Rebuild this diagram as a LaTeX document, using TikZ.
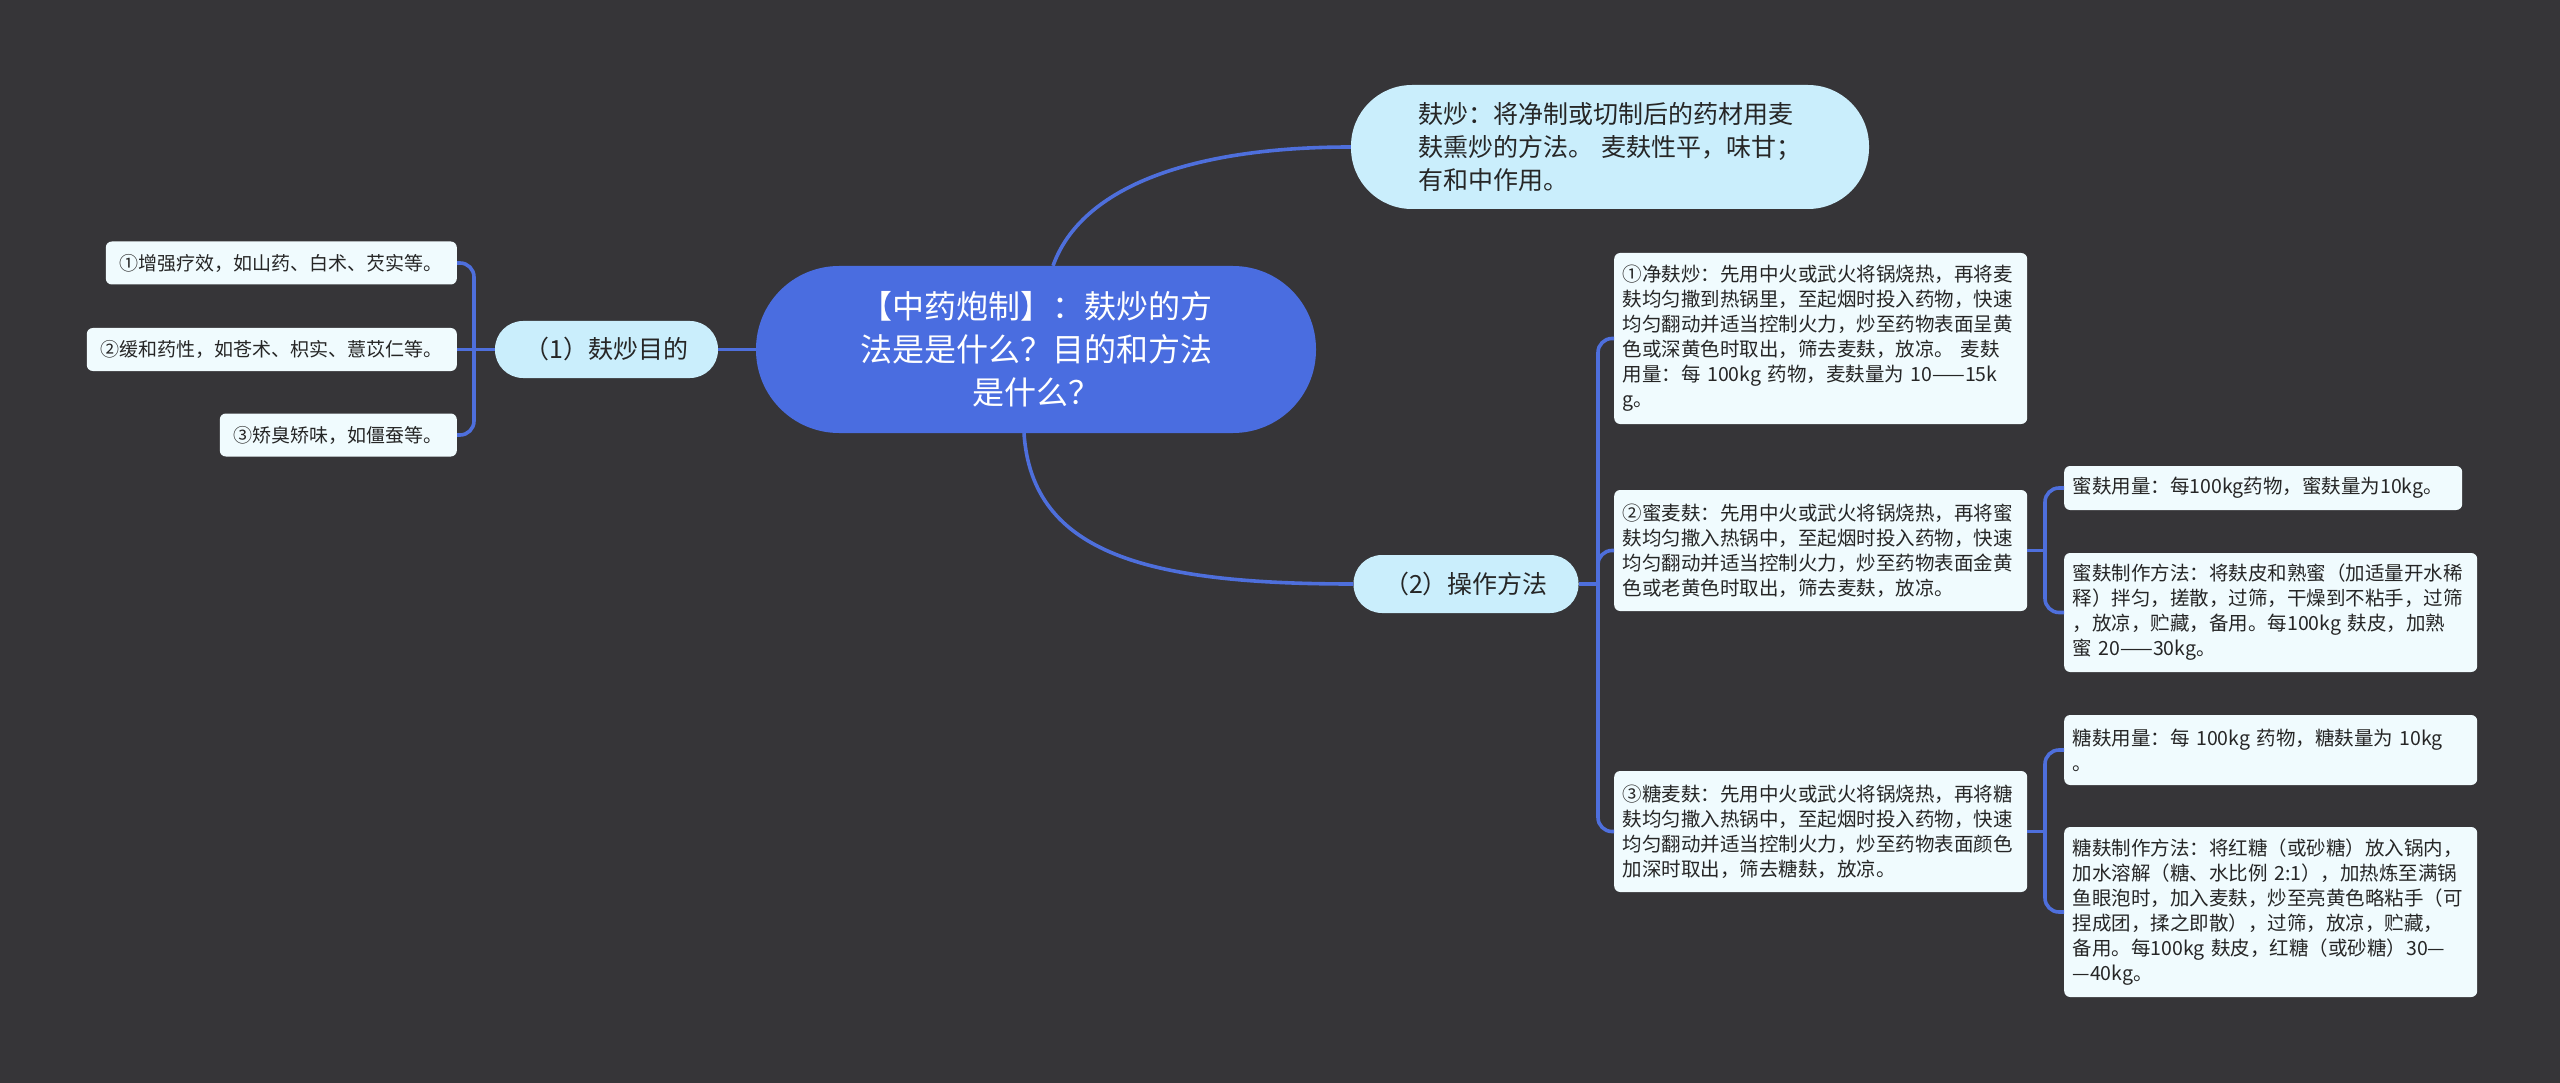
\documentclass[tikz,border=0pt]{standalone}
\usepackage{fontspec}
\setmainfont{Noto Sans CJK SC}
\definecolor{bg}{HTML}{363538}
\definecolor{link}{HTML}{4E6FDC}
\definecolor{rootfill}{HTML}{4A6DE0}
\definecolor{mainfill}{HTML}{CAEEFC}
\definecolor{leaffill}{HTML}{F0FBFE}
\definecolor{txt}{HTML}{262626}
\begin{document}
\begin{tikzpicture}[x=1pt,y=-1pt,
  conn/.style={draw=link, line width=3.6pt},
  rootnode/.style={fill=rootfill, text=white, rounded corners=83pt, minimum width=560pt,
    minimum height=167pt, align=center, inner sep=0pt, font=\fontsize{32pt}{43pt}\selectfont},
  mainnode/.style={fill=mainfill, text=txt, inner sep=0pt, font=\fontsize{25pt}{33pt}\selectfont},
  sideleaf/.style={fill=leaffill, text=txt, rounded corners=6pt, inner xsep=14pt, inner ysep=0pt,
    minimum height=43pt, font=\fontsize{19pt}{24pt}\selectfont},
  leafnode/.style={fill=leaffill, text=txt, rounded corners=6pt, inner xsep=8.5pt, inner ysep=0pt,
    text width=396pt, align=left, font=\fontsize{19.5pt}{25pt}\selectfont}
]
\fill[bg] (0,0) rectangle (2560,1083);
\useasboundingbox (0,0) rectangle (2560,1083);

% nodes
\node[rootnode] (root) at (1036,349.5) {【中药炮制】：麸炒的方\\法是是什么？目的和方法\\是什么？};
\node[mainnode, rounded corners=61pt, minimum width=518pt, minimum height=124pt,
  text width=384pt, align=left] (def) at (1610,147)
  {麸炒：将净制或切制后的药材用麦\\麸熏炒的方法。 麦麸性平，味甘；\\有和中作用。};
\node[mainnode, rounded corners=28pt, minimum width=223pt, minimum height=57pt] (goal) at (606.5,349.5) {（1）麸炒目的};
\node[mainnode, rounded corners=28.5pt, minimum width=225pt, minimum height=58pt] (op) at (1466,584) {（2）操作方法};

\node[sideleaf, anchor=east] (l1) at (457,263) {①增强疗效，如山药、白术、芡实等。};
\node[sideleaf, anchor=east] (l2) at (457,349.5) {②缓和药性，如苍术、枳实、薏苡仁等。};
\node[sideleaf, anchor=east] (l3) at (457,435) {③矫臭矫味，如僵蚕等。};

\node[leafnode, anchor=west, minimum height=171pt] (m1) at (1614,338.5)
  {①净麸炒：先用中火或武火将锅烧热，再将麦\\麸均匀撒到热锅里，至起烟时投入药物，快速\\均匀翻动并适当控制火力，炒至药物表面呈黄\\色或深黄色时取出，筛去麦麸，放凉。 麦麸\\用量：每 100kg 药物，麦麸量为 10——15k\\g。};
\node[leafnode, anchor=west, minimum height=121pt] (m2) at (1614,550.5)
  {②蜜麦麸：先用中火或武火将锅烧热，再将蜜\\麸均匀撒入热锅中，至起烟时投入药物，快速\\均匀翻动并适当控制火力，炒至药物表面金黄\\色或老黄色时取出，筛去麦麸，放凉。};
\node[leafnode, anchor=west, minimum height=121pt] (m3) at (1614,831.5)
  {③糖麦麸：先用中火或武火将锅烧热，再将糖\\麸均匀撒入热锅中，至起烟时投入药物，快速\\均匀翻动并适当控制火力，炒至药物表面颜色\\加深时取出，筛去糖麸，放凉。};

\node[leafnode, anchor=west, text width=381pt, minimum height=44pt] (s1) at (2064,488)
  {蜜麸用量：每100kg药物，蜜麸量为10kg。};
\node[leafnode, anchor=west, minimum height=119pt] (s2) at (2064,612.5)
  {蜜麸制作方法：将麸皮和熟蜜（加适量开水稀\\释）拌匀，搓散，过筛，干燥到不粘手，过筛\\，放凉，贮藏，备用。每100kg 麸皮，加熟\\蜜 20——30kg。};
\node[leafnode, anchor=west, minimum height=70pt] (s3) at (2064,750)
  {糖麸用量：每 100kg 药物，糖麸量为 10kg\\。};
\node[leafnode, anchor=west, minimum height=170pt] (s4) at (2064,912)
  {糖麸制作方法：将红糖（或砂糖）放入锅内，\\加水溶解（糖、水比例 2:1），加热炼至满锅\\鱼眼泡时，加入麦麸，炒至亮黄色略粘手（可\\捏成团，揉之即散），过筛，放凉，贮藏，\\备用。每100kg 麸皮，红糖（或砂糖）30—\\—40kg。};

% junctions
\coordinate (j1) at (474,349.5);
\coordinate (j2) at (1598,584);
\coordinate (j3) at (2045,550.5);
\coordinate (j4) at (2045,831.5);

% connectors
\draw[conn] ([xshift=17pt]root.north) .. controls (1082,185) and (1195,147) .. (def.west);
\draw[conn] ([xshift=-12pt]root.south) .. controls (1032,555) and (1150,584) .. (op.west);
\draw[conn] (root.west) -- (goal.east);
\draw[conn] (goal.west) -- (l2.east);
\draw[conn, rounded corners=14pt] (l1.east) -| (j1) |- (l3.east);
\draw[conn] (op.east) -- (j2);
\draw[conn, rounded corners=14pt] (m1.west) -| (j2) |- (m3.west);
\draw[conn, rounded corners=14pt] (j2) |- (m2.west);
\draw[conn] (m2.east) -- (j3);
\draw[conn, rounded corners=14pt] (s1.west) -| (j3) |- (s2.west);
\draw[conn] (m3.east) -- (j4);
\draw[conn, rounded corners=14pt] (s3.west) -| (j4) |- (s4.west);
\end{tikzpicture}
\end{document}
